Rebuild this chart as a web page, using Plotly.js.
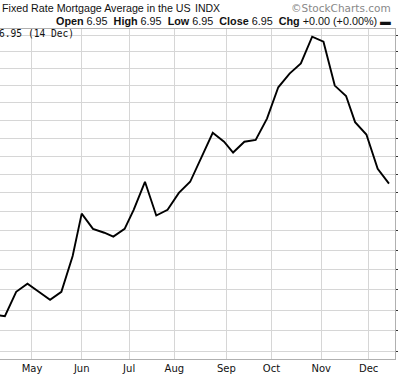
<!DOCTYPE html>
<html>
<head>
<meta charset="utf-8">
<script src="https://cdn.plot.ly/plotly-3.0.1.min.js"></script>
<style>html,body{margin:0;padding:0;background:#fff;}#chart{width:400px;height:376px;}</style>
</head>
<body>
<div id="chart"></div>
<script>
// Weekly 30-yr fixed mortgage average (%)
const dates = ['2023-04-06','2023-04-13','2023-04-20','2023-04-27','2023-05-04','2023-05-11','2023-05-18','2023-05-25',
  '2023-06-01','2023-06-08','2023-06-15','2023-06-22','2023-06-29','2023-07-06','2023-07-13','2023-07-20','2023-07-27',
  '2023-08-03','2023-08-10','2023-08-17','2023-08-24','2023-08-31','2023-09-07','2023-09-14','2023-09-21','2023-09-28',
  '2023-10-05','2023-10-12','2023-10-19','2023-10-26','2023-11-02','2023-11-09','2023-11-16','2023-11-22','2023-11-30',
  '2023-12-07','2023-12-14'];
const rates = [6.28,6.27,6.39,6.43,6.39,6.35,6.39,6.57,
  6.79,6.71,6.69,6.67,6.71,6.81,6.96,6.78,6.81,
  6.90,6.96,7.09,7.23,7.18,7.12,7.18,7.19,7.31,
  7.49,7.57,7.63,7.79,7.76,7.50,7.44,7.29,7.22,
  7.03,6.95];
const holidays = ['2023-04-07','2023-05-29','2023-06-19','2023-07-04','2023-09-04','2023-11-23'];
const monthTickDates = ['2023-05-01','2023-06-01','2023-07-03','2023-08-01','2023-09-01','2023-10-02','2023-11-01','2023-12-01'];
const monthLabels = ['May','Jun','Jul','Aug','Sep','Oct','Nov','Dec'];
const yTicks = [6.1,6.2,6.3,6.4,6.5,6.6,6.7,6.8,6.9,7.0,7.1,7.2,7.3,7.4,7.5,7.6,7.7,7.8];
const yTickText = ['6.10','6.20','6.30','6.40','6.50','6.60','6.70','6.80','6.90','7.00','7.10','7.20','7.30','7.40','7.50','7.60','7.70','7.80'];

const W = 400, H = 376, mL = 0, mR = 5, mT = 29, mB = 17;
const pw = W - mL - mR, ph = H - mT - mB;
const px = x => (x - mL) / pw;
const py = y => (H - mB - y) / ph;

const trace = {
  x: dates, y: rates, type: 'scatter', mode: 'lines',
  line: {color: '#000', width: 1.9}, hoverinfo: 'skip'
};

const layout = {
  width: W, height: H,
  margin: {l: mL, r: mR, t: mT, b: mB, pad: 0},
  paper_bgcolor: '#fff', plot_bgcolor: '#fff',
  showlegend: false,
  font: {family: 'DejaVu Sans', size: 10, color: '#111'},
  xaxis: {
    type: 'date',
    range: ['2023-04-10 20:10', '2023-12-18 15:50'],
    rangebreaks: [{bounds: ['sat', 'mon']}, {values: holidays}],
    tickmode: 'array', tickvals: monthTickDates, ticktext: monthLabels,
    showgrid: true, gridcolor: '#d6d6d6', gridwidth: 1,
    showline: true, linecolor: '#b0b0b0', linewidth: 1, mirror: true,
    ticks: '', zeroline: false,
    tickfont: {family: 'DejaVu Sans', size: 10, color: '#111'}
  },
  yaxis: {
    type: 'log', side: 'right',
    range: [Math.log10(6.065), Math.log10(7.837)],
    tickmode: 'array', tickvals: yTicks, ticktext: yTickText,
    showgrid: true, gridcolor: '#d6d6d6', gridwidth: 1,
    showline: true, linecolor: '#b0b0b0', linewidth: 1,
    ticks: 'outside', ticklen: 2, tickcolor: '#333',
    zeroline: false,
    tickfont: {family: 'DejaVu Sans', size: 10, color: '#111'}
  },
  annotations: [
    {xref: 'paper', yref: 'paper', x: px(0), y: py(8), xanchor: 'left', yanchor: 'middle',
     text: 'Fixed Rate Mortgage Average in the US', showarrow: false,
     font: {family: 'Liberation Sans', size: 10.7, color: '#111'}},
    {xref: 'paper', yref: 'paper', x: px(193), y: py(8), xanchor: 'left', yanchor: 'middle',
     text: 'INDX', showarrow: false,
     font: {family: 'Liberation Sans', size: 10.5, color: '#111'}},
    {xref: 'paper', yref: 'paper', x: px(393), y: py(8), xanchor: 'right', yanchor: 'middle',
     text: '©StockCharts.com', showarrow: false,
     font: {family: 'DejaVu Sans', size: 10.5, color: '#888'}},
    {xref: 'paper', yref: 'paper', x: px(393), y: py(21), xanchor: 'right', yanchor: 'middle',
     text: '<b>Open</b> 6.95  <b>High</b> 6.95  <b>Low</b> 6.95  <b>Close</b> 6.95  <b>Chg</b> +0.00 (+0.00%) ▬',
     showarrow: false,
     font: {family: 'Liberation Sans', size: 10.8, color: '#111'}},
    {xref: 'paper', yref: 'paper', x: px(-3), y: py(34), xanchor: 'left', yanchor: 'middle',
     text: '6.95 (14 Dec)', showarrow: false,
     font: {family: 'DejaVu Sans Mono', size: 9.6, color: '#111'}}
  ]
};

Plotly.newPlot('chart', [trace], layout, {staticPlot: true, displayModeBar: false});
</script>
</body>
</html>
